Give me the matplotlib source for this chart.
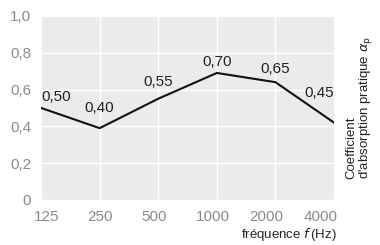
import matplotlib
matplotlib.use('Agg')
import matplotlib.pyplot as plt
from matplotlib.transforms import ScaledTranslation

plt.rcParams['font.family'] = ['Liberation Sans', 'DejaVu Sans']

freqs = ['125', '250', '500', '1000', '2000', '4000']
alpha = [0.50, 0.39, 0.55, 0.69, 0.64, 0.42]
labels = ['0,50', '0,40', '0,55', '0,70', '0,65', '0,45']
yticks = [0, 0.2, 0.4, 0.6, 0.8, 1.0]
ytick_labels = ['0', '0,2', '0,4', '0,6', '0,8', '1,0']

fig = plt.figure(figsize=(3.8, 2.45), dpi=100)
ax = fig.add_axes([0.108, 0.184, 0.771, 0.751])
ax.set_facecolor('#ebebeb')
x = list(range(len(freqs)))
ax.plot(x, alpha, color='#111111', linewidth=1.5, zorder=3)

# value labels (placed above the line)
label_y = [0.56, 0.50, 0.64, 0.75, 0.71, 0.58]
label_ha = ['left', 'center', 'center', 'center', 'center', 'right']
for i, lab in enumerate(labels):
    ax.text(x[i], label_y[i], lab, ha=label_ha[i], va='center',
            fontsize=11, color='#222222', zorder=4)

ax.set_xlim(0, len(freqs) - 1)
ax.set_ylim(0, 1.0)
ax.set_xticks(x)
ax.set_xticklabels(freqs)
ax.set_yticks(yticks)
ax.set_yticklabels(ytick_labels)
ax.tick_params(length=0, colors='#8a8a8a', labelsize=11)
ax.tick_params(axis='x', pad=7)
ax.tick_params(axis='y', pad=7)
shifts = [6, 0, -4, -4, -9, -13]
for lbl, s in zip(ax.get_xticklabels(), shifts):
    lbl.set_transform(lbl.get_transform() + ScaledTranslation(s / 100, 0, fig.dpi_scale_trans))
ax.grid(True, color='white', linewidth=1.0)
ax.set_axisbelow(True)
for s in ax.spines.values():
    s.set_visible(False)

fig.text(0.886, 0.03, r'fréquence $\mathit{f}\,$(Hz)', ha='right', va='baseline',
         fontsize=9.5, color='#222222')
fig.text(0.947, 0.561, "Coefficient\nd'absorption pratique $\\alpha_\\mathrm{p}$",
         rotation=90, ha='center', va='center', fontsize=9.5, color='#222222',
         multialignment='left', linespacing=1.0)

fig.savefig('out.png', dpi=100)
